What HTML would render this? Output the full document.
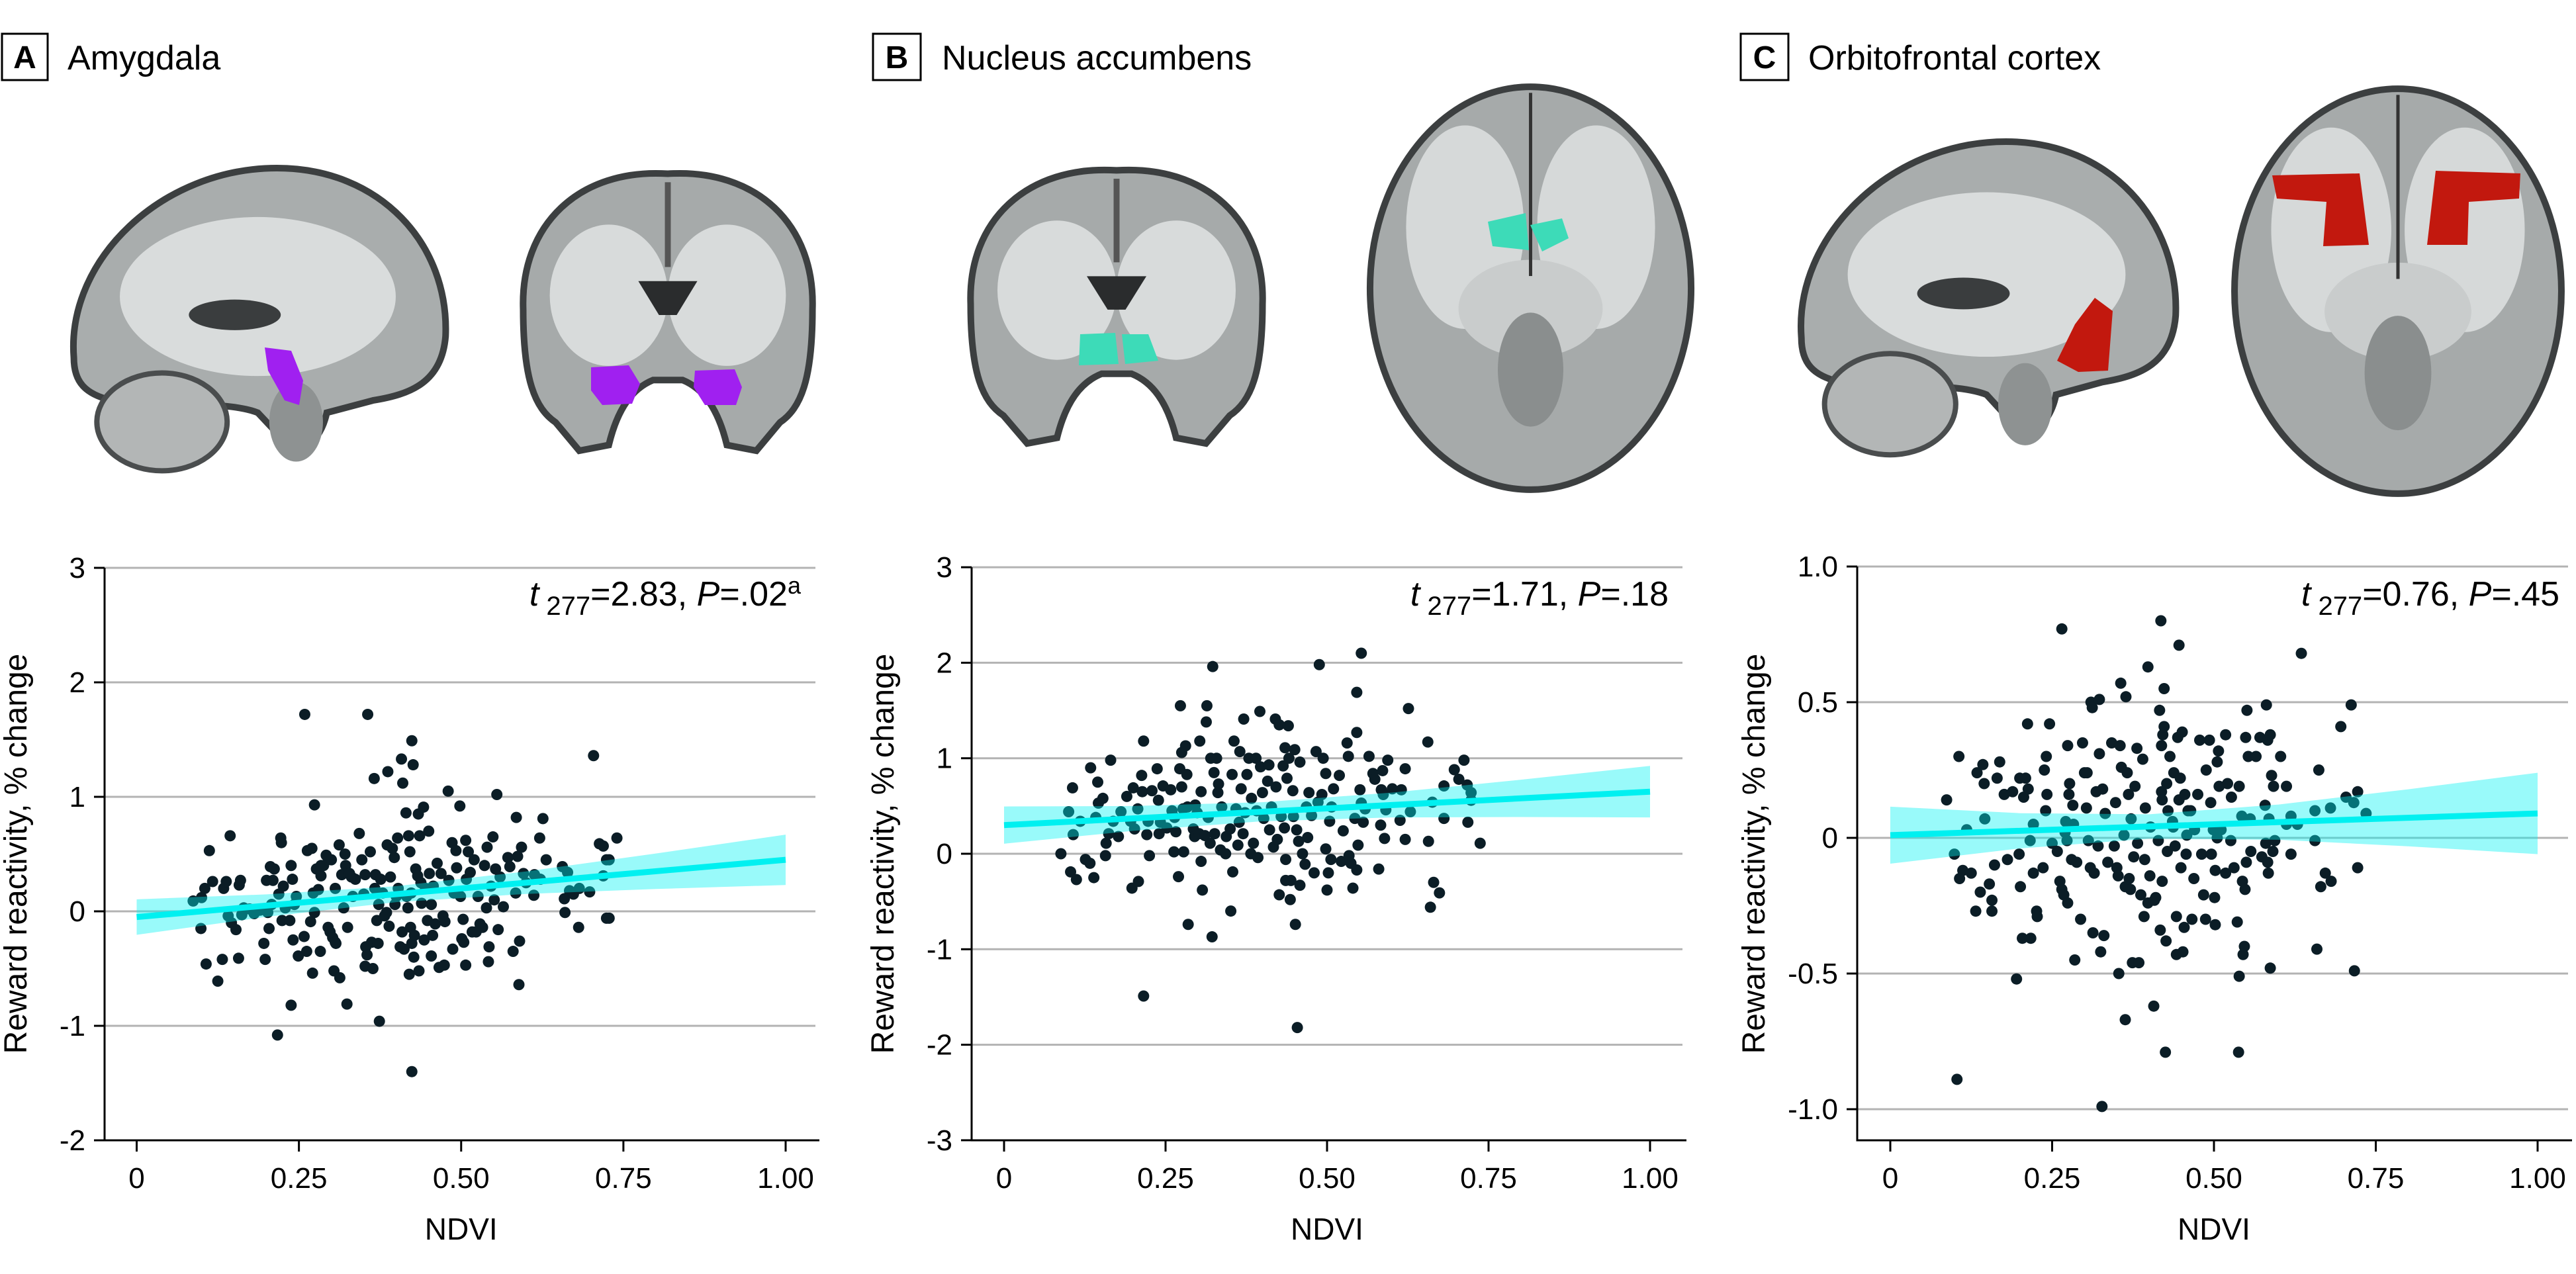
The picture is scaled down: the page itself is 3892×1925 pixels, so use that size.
<!DOCTYPE html>
<html><head><meta charset="utf-8"><style>
html,body{margin:0;padding:0;background:#fff;}
svg{display:block;}
.nar{font-family:"Liberation Sans Narrow","Liberation Sans",sans-serif;}
.reg{font-family:"Liberation Sans",sans-serif;}
</style></head><body>
<svg id="fig" xmlns="http://www.w3.org/2000/svg" width="3892" height="1925" viewBox="0 0 3892 1925">
<defs>
<g id="sag">
<path d="M0.02,0.62 C0,0.3 0.25,0 0.55,0 C0.82,0 1,0.25 0.99,0.55 C0.98,0.7 0.9,0.74 0.8,0.76 L0.68,0.8 C0.66,0.92 0.58,0.96 0.56,0.88 L0.5,0.8 C0.42,0.76 0.25,0.78 0.12,0.76 C0.05,0.74 0.02,0.7 0.02,0.62Z" fill="#a9adad" stroke="#3c3f40" stroke-width="10" vector-effect="non-scaling-stroke"/>
<ellipse cx="0.5" cy="0.42" rx="0.36" ry="0.26" fill="#d9dcdc"/>
<ellipse cx="0.25" cy="0.83" rx="0.17" ry="0.16" fill="#b3b6b6" stroke="#4a4d4e" stroke-width="8" vector-effect="non-scaling-stroke"/>
<ellipse cx="0.6" cy="0.83" rx="0.07" ry="0.13" fill="#8e9292"/>
<ellipse cx="0.44" cy="0.48" rx="0.12" ry="0.05" fill="#3a3d3e"/>
</g>
<g id="cor">
<path d="M0.5,0.02 C0.2,0 0,0.2 0.01,0.5 C0.01,0.75 0.05,0.85 0.12,0.9 L0.2,1 L0.3,0.98 C0.33,0.85 0.38,0.78 0.45,0.75 L0.55,0.75 C0.62,0.78 0.67,0.85 0.7,0.98 L0.8,1 L0.88,0.9 C0.95,0.85 0.99,0.75 0.99,0.5 C1,0.2 0.8,0 0.5,0.02Z" fill="#a6aaaa" stroke="#3c3f40" stroke-width="10" vector-effect="non-scaling-stroke"/>
<ellipse cx="0.3" cy="0.45" rx="0.2" ry="0.25" fill="#d8dbdb"/>
<ellipse cx="0.7" cy="0.45" rx="0.2" ry="0.25" fill="#d8dbdb"/>
<path d="M0.4,0.4 L0.6,0.4 L0.53,0.52 L0.47,0.52Z" fill="#2a2c2d"/>
<rect x="0.49" y="0.05" width="0.02" height="0.3" fill="#555"/>
</g>
<g id="axi">
<ellipse cx="0.5" cy="0.5" rx="0.49" ry="0.495" fill="#a6aaaa" stroke="#3c3f40" stroke-width="10" vector-effect="non-scaling-stroke"/>
<ellipse cx="0.3" cy="0.35" rx="0.18" ry="0.25" fill="#d6d9d9"/>
<ellipse cx="0.7" cy="0.35" rx="0.18" ry="0.25" fill="#d6d9d9"/>
<ellipse cx="0.5" cy="0.55" rx="0.22" ry="0.12" fill="#c9cccc"/>
<ellipse cx="0.5" cy="0.7" rx="0.1" ry="0.14" fill="#8a8e8e"/>
<rect x="0.495" y="0.02" width="0.01" height="0.45" fill="#333"/>
</g>
</defs>

<!-- titles -->
<g>
<rect x="3" y="51" width="69" height="70" fill="none" stroke="#000" stroke-width="3"/>
<text x="37.5" y="103" class="nar" font-size="48" font-weight="bold" text-anchor="middle">A</text>
<text x="102" y="105" class="nar" font-size="52">Amygdala</text>
</g>
<g>
<rect x="1319" y="51" width="72" height="70" fill="none" stroke="#000" stroke-width="3"/>
<text x="1355" y="103" class="nar" font-size="48" font-weight="bold" text-anchor="middle">B</text>
<text x="1423" y="105" class="nar" font-size="52">Nucleus accumbens</text>
</g>
<g>
<rect x="2630" y="51" width="72" height="70" fill="none" stroke="#000" stroke-width="3"/>
<text x="2666" y="103" class="nar" font-size="48" font-weight="bold" text-anchor="middle">C</text>
<text x="2732" y="105" class="nar" font-size="52">Orbitofrontal cortex</text>
</g>

<!-- brains -->
<use href="#sag" transform="translate(100,254) scale(579,462)"/>
<path d="M400,525 L440,530 L458,575 L452,612 L430,605 L405,560Z" fill="#a020f0"/>
<use href="#cor" transform="translate(786,254) scale(446,427)"/>
<path d="M893,555 L950,552 L967,580 L955,610 L910,612 L893,590Z" fill="#a020f0"/>
<path d="M1050,560 L1110,558 L1121,585 L1112,612 L1065,612 L1048,585Z" fill="#a020f0"/>

<use href="#cor" transform="translate(1462,249) scale(450,421)"/>
<path d="M1632,505 L1685,503 L1690,550 L1630,552Z M1695,505 L1735,505 L1750,545 L1700,550Z" fill="#3ddbb8"/>
<use href="#axi" transform="translate(2065,128) scale(495,615)"/>
<path d="M2248,335 L2305,322 L2310,378 L2255,372Z M2312,340 L2360,330 L2370,360 L2330,380Z" fill="#3ddbb8"/>

<use href="#sag" transform="translate(2710,214) scale(583,478)"/>
<path d="M3165,450 L3192,470 L3185,560 L3140,562 L3108,545 L3135,490Z" fill="#c2180e"/>
<use href="#axi" transform="translate(3371,131) scale(504,618)"/>
<path d="M3433,265 L3565,262 L3579,370 L3510,372 L3515,305 L3440,300Z" fill="#c2180e"/>
<path d="M3680,258 L3808,262 L3806,300 L3730,305 L3728,370 L3667,370Z" fill="#c2180e"/>

<g id="charts"></g>
</svg>
<script>
// ---- Panel A: Amygdala ----
const aNdvi=[0.087,0.099,0.10,0.105,0.107,0.112,0.117,0.125,0.132,0.134,0.138,0.141,0.144,0.146,0.153,0.157,0.158,0.16,0.162,0.165,0.174,0.181,0.19,0.196,0.198,0.2,0.202,0.204,0.206,0.208,0.21,0.212,0.217,0.219,0.222,0.223,0.224,0.226,0.229,0.236,0.238,0.238,0.24,0.241,0.243,0.246,0.249,0.258,0.259,0.262,0.263,0.268,0.27,0.271,0.272,0.274,0.274,0.277,0.28,0.283,0.284,0.284,0.288,0.292,0.295,0.298,0.3,0.302,0.304,0.306,0.306,0.307,0.312,0.313,0.316,0.319,0.321,0.322,0.324,0.325,0.328,0.331,0.333,0.337,0.343,0.347,0.35,0.352,0.352,0.353,0.355,0.356,0.36,0.362,0.364,0.366,0.367,0.368,0.37,0.372,0.373,0.374,0.376,0.379,0.382,0.385,0.386,0.387,0.389,0.391,0.394,0.397,0.398,0.4,0.402,0.403,0.406,0.408,0.409,0.41,0.412,0.415,0.416,0.418,0.419,0.42,0.421,0.422,0.423,0.424,0.424,0.424,0.426,0.427,0.428,0.43,0.433,0.434,0.435,0.436,0.438,0.439,0.442,0.443,0.445,0.448,0.45,0.451,0.454,0.454,0.456,0.457,0.46,0.463,0.466,0.469,0.472,0.474,0.475,0.48,0.481,0.486,0.487,0.489,0.492,0.493,0.498,0.499,0.501,0.503,0.504,0.507,0.507,0.508,0.511,0.514,0.517,0.52,0.523,0.526,0.529,0.533,0.536,0.539,0.54,0.542,0.543,0.546,0.549,0.551,0.553,0.555,0.557,0.56,0.565,0.572,0.575,0.58,0.584,0.585,0.587,0.589,0.59,0.593,0.596,0.6,0.612,0.613,0.621,0.622,0.626,0.631,0.656,0.659,0.66,0.664,0.667,0.673,0.681,0.682,0.698,0.704,0.713,0.719,0.719,0.724,0.724,0.728,0.74,0.728];
const aReward=[0.09,-0.15,0.12,0.2,-0.46,0.53,0.26,-0.61,-0.42,0.2,0.26,-0.04,0.66,-0.1,-0.16,-0.41,0.23,0.27,-0.03,0.03,0.02,-0.02,0.01,-0.28,-0.42,0.27,-0.01,-0.15,0.39,0.06,0.27,0.37,-1.08,0.15,0.64,0.6,-0.08,0.22,0.03,-0.08,0.4,-0.82,0.28,-0.25,0.06,0.13,-0.39,-0.22,1.72,-0.35,0.53,-0.09,0.55,-0.54,0.16,0.93,-0.01,0.37,0.19,-0.35,0.31,0.4,0.4,0.49,-0.14,-0.18,0.45,-0.23,-0.52,0.2,-0.27,-0.28,0.58,-0.58,0.32,0.03,0.5,0.4,-0.81,-0.14,0.33,0.3,0.13,0.28,0.68,0.45,0.15,0.32,-0.48,-0.31,-0.38,1.72,0.52,-0.27,-0.5,1.16,0.2,0.32,-0.08,-0.28,0.06,-0.96,0.28,0.16,-0.04,-0.01,0.58,1.22,-0.13,0.3,0.55,0.47,0.06,0.13,0.64,0.2,-0.31,1.33,-0.18,1.12,-0.33,0.86,0.13,0.03,0.66,-0.55,0.52,-0.14,0.16,1.49,-0.28,-1.4,1.28,-0.4,-0.21,0.37,0.31,0.85,-0.52,0.66,0.25,0.07,0.91,-0.25,0.2,-0.08,0.7,0.33,0.06,-0.39,-0.21,0.22,-0.11,0.42,-0.49,0.33,-0.04,-0.47,-0.09,1.05,0.27,0.6,-0.33,0.16,0.53,0.38,0.92,0.13,-0.24,-0.07,-0.27,0.62,-0.47,0.28,0.52,0.34,-0.18,0.45,-0.18,0.13,-0.11,-0.14,0.4,0.03,0.56,-0.44,-0.31,0.22,0.65,0.1,0.37,1.02,-0.16,0.3,0.04,0.47,0.39,-0.35,0.16,0.82,0.48,-0.64,-0.26,0.56,0.33,0.25,0.14,0.32,0.64,0.28,0.81,0.45,0.39,0.11,-0.01,0.34,0.18,0.15,-0.14,0.2,0.17,1.36,0.59,0.57,0.31,0.45,-0.06,0.45,0.64,-0.06];
const aFit=[-0.05,0.45];
const aBandLo=[-0.205,-0.048,0.08,0.152,0.195,0.23];
const aBandHi=[0.105,0.148,0.22,0.348,0.505,0.67];
const aYTicks=[3,2,1,0,-1,-2];
const aYTickLabels=["3","2","1","0","-1","-2"];

// ---- Panel B: Nucleus accumbens ----
const bNdvi=[0.088,0.1,0.103,0.106,0.107,0.112,0.118,0.126,0.133,0.134,0.139,0.142,0.145,0.146,0.153,0.157,0.158,0.162,0.165,0.169,0.177,0.181,0.19,0.196,0.198,0.2,0.202,0.207,0.208,0.213,0.214,0.216,0.216,0.221,0.223,0.225,0.229,0.237,0.239,0.24,0.242,0.246,0.252,0.258,0.26,0.263,0.264,0.266,0.27,0.272,0.273,0.275,0.275,0.277,0.278,0.281,0.283,0.284,0.285,0.293,0.295,0.296,0.299,0.302,0.303,0.305,0.305,0.307,0.311,0.313,0.314,0.316,0.319,0.32,0.322,0.323,0.325,0.326,0.329,0.331,0.332,0.335,0.337,0.343,0.344,0.35,0.351,0.353,0.354,0.356,0.359,0.362,0.364,0.365,0.367,0.37,0.371,0.373,0.376,0.379,0.382,0.383,0.386,0.39,0.391,0.393,0.396,0.397,0.4,0.402,0.408,0.41,0.411,0.414,0.417,0.42,0.421,0.423,0.426,0.426,0.429,0.432,0.434,0.435,0.436,0.436,0.438,0.44,0.441,0.443,0.444,0.447,0.448,0.45,0.451,0.453,0.454,0.456,0.458,0.458,0.462,0.466,0.468,0.47,0.472,0.476,0.48,0.483,0.486,0.488,0.492,0.494,0.498,0.498,0.5,0.502,0.504,0.506,0.507,0.51,0.519,0.522,0.525,0.531,0.533,0.534,0.537,0.54,0.543,0.546,0.546,0.548,0.546,0.551,0.553,0.556,0.559,0.565,0.571,0.574,0.58,0.583,0.584,0.586,0.587,0.589,0.591,0.594,0.601,0.613,0.615,0.621,0.621,0.626,0.629,0.656,0.657,0.66,0.663,0.665,0.674,0.681,0.681,0.697,0.704,0.712,0.717,0.718,0.723,0.723,0.737,0.553];
const bReward=[0,0.44,-0.19,0.69,0.2,-0.27,0.34,-0.06,-0.1,0.9,-0.25,0.38,0.75,0.53,0.58,-0.02,0.11,0.21,0.98,0.34,0.18,0.44,0.6,0.34,-0.36,0.69,0.26,0.47,-0.29,0.82,0.65,1.18,-1.49,0.2,0.34,-0.02,0.66,0.89,0.56,0.21,0.33,0.71,0.27,0.67,0.45,0.02,0.38,0.23,-0.24,0.89,1.55,1.06,0.7,0.47,0.02,1.13,0.83,0.49,-0.74,0.26,0.18,0.51,0.43,0.21,1.18,-0.08,0.65,-0.38,0.19,1.38,1.55,0.38,0.11,1.0,-0.87,1.96,0.85,0.21,1.0,0.64,0.73,0.04,0.49,0,0.18,0.26,-0.6,0.83,-0.19,1.18,0.47,0.09,0.33,1.07,0.68,0.21,1.41,0.43,0.83,1.0,0,0.58,0.11,1.0,0.45,-0.04,1.49,0.91,0.64,0.37,0.76,0.93,0.25,0.49,0.07,1.41,0.7,0.15,1.35,-0.43,0.39,0.92,0.27,1.11,-0.06,-0.28,0.79,1.34,1.0,-0.48,-0.28,0.66,0.39,1.09,-0.74,0.25,-1.82,0.13,0.96,-0.33,0,-0.11,0.49,0.17,0.64,0.4,-0.2,1.07,0.54,1.98,0.62,1.0,0.84,0.05,-0.38,-0.2,0.34,-0.06,0.49,0.68,0.82,-0.08,0.24,1.16,1.02,-0.02,-0.1,-0.36,0.37,1.27,-0.17,0.09,1.69,0.67,0.53,0.33,0.47,1.02,0.84,0.78,-0.16,0.3,0.67,0.87,0.62,0.16,0.46,0.98,0.68,0.35,0.67,0.89,0.15,1.52,0.44,1.17,0.13,-0.56,0.54,-0.3,-0.41,0.37,0.71,0.88,0.78,0.98,0.72,0.33,0.64,0.56,0.11,2.1];
const bFit=[0.30,0.65];
const bBandLo=[0.105,0.24,0.34,0.38,0.385,0.38];
const bBandHi=[0.495,0.50,0.54,0.64,0.775,0.92];
const bYTicks=[3,2,1,0,-1,-2,-3];
const bYTickLabels=["3","2","1","0","-1","-2","-3"];

// ---- Panel C: Orbitofrontal cortex ----
const cNdvi=[0.087,0.099,0.103,0.106,0.107,0.112,0.118,0.125,0.132,0.134,0.139,0.143,0.145,0.146,0.153,0.157,0.157,0.161,0.165,0.169,0.176,0.181,0.189,0.195,0.199,0.2,0.201,0.204,0.206,0.209,0.212,0.213,0.216,0.217,0.221,0.221,0.226,0.227,0.236,0.238,0.24,0.241,0.242,0.246,0.25,0.258,0.262,0.265,0.268,0.27,0.271,0.273,0.274,0.274,0.276,0.277,0.28,0.282,0.283,0.285,0.288,0.294,0.297,0.3,0.303,0.304,0.306,0.309,0.31,0.312,0.313,0.315,0.318,0.321,0.323,0.323,0.325,0.327,0.328,0.33,0.332,0.336,0.342,0.346,0.348,0.35,0.352,0.353,0.355,0.356,0.357,0.361,0.363,0.363,0.364,0.366,0.368,0.369,0.371,0.372,0.374,0.376,0.378,0.381,0.382,0.384,0.387,0.39,0.392,0.393,0.394,0.398,0.398,0.401,0.402,0.407,0.408,0.41,0.414,0.416,0.417,0.419,0.419,0.42,0.42,0.421,0.423,0.423,0.425,0.426,0.427,0.428,0.429,0.432,0.436,0.437,0.438,0.44,0.442,0.442,0.444,0.446,0.448,0.449,0.451,0.452,0.454,0.455,0.457,0.458,0.46,0.464,0.466,0.469,0.47,0.475,0.478,0.481,0.484,0.487,0.488,0.493,0.495,0.496,0.499,0.501,0.502,0.502,0.505,0.505,0.507,0.508,0.511,0.518,0.518,0.521,0.526,0.527,0.531,0.536,0.538,0.539,0.539,0.543,0.544,0.545,0.547,0.548,0.549,0.55,0.551,0.553,0.556,0.557,0.565,0.571,0.574,0.579,0.58,0.581,0.583,0.583,0.584,0.585,0.587,0.587,0.589,0.591,0.592,0.594,0.603,0.612,0.612,0.619,0.619,0.629,0.656,0.656,0.659,0.662,0.665,0.672,0.68,0.681,0.696,0.704,0.712,0.716,0.717,0.722,0.722,0.735,0.265,0.418,0.446,0.635];
const cReward=[0.14,-0.06,-0.89,0.3,-0.15,-0.12,0.03,-0.13,-0.27,0.24,-0.2,0.27,0.2,0.07,-0.17,-0.23,-0.27,-0.1,0.22,0.28,0.16,-0.08,0.17,-0.52,-0.06,0.22,-0.18,-0.37,0.15,0.22,0.42,0.18,-0.01,-0.37,0.05,-0.13,-0.27,-0.29,-0.11,0.25,0.1,0.3,0.16,0.42,-0.02,-0.05,-0.16,-0.19,-0.21,0.02,0.06,-0.01,-0.24,0.34,0.16,0.2,-0.08,0.12,0.05,-0.45,-0.09,-0.3,0.35,0.24,0.11,0.24,-0.01,-0.11,0.5,0.48,-0.35,-0.13,0.17,-0.03,0.51,0.31,-0.42,-0.99,0.18,-0.36,0.09,-0.09,0.35,-0.03,0.13,-0.11,-0.14,-0.5,0.34,0.57,0.26,0.01,-0.67,-0.18,0.52,0.24,0.16,-0.15,-0.19,0.07,-0.46,-0.07,0.19,0.33,-0.02,-0.46,-0.21,0.29,-0.29,-0.08,0.11,0.63,-0.24,-0.14,0.04,-0.62,-0.23,-0.22,-0.01,0.47,-0.34,0.34,0.17,-0.16,0.14,0.38,0.55,0.41,-0.79,-0.38,0.2,-0.05,0.1,0.3,0.06,0.04,0.24,-0.03,-0.43,-0.29,0.37,0.14,0.22,-0.11,0.39,-0.42,-0.33,0.16,-0.06,0.01,0.1,0.1,-0.3,-0.15,0.03,0.16,0.36,-0.06,-0.21,-0.3,0.25,0.36,0.13,-0.06,0.03,-0.22,-0.32,-0.12,0.28,0,0.32,0.19,0.03,0.38,-0.13,0.2,-0.01,0.15,-0.11,-0.31,-0.79,-0.51,0.19,0.08,-0.16,-0.43,-0.4,-0.19,0.37,-0.09,0.47,0.3,0.07,-0.05,0.3,0.37,-0.07,0.12,-0.02,0.49,0.36,-0.09,-0.13,0.07,0.38,-0.48,0.23,-0.05,0.19,-0.01,0.3,0.19,0.05,0.08,-0.06,0.05,0.1,-0.01,-0.41,0.25,-0.18,-0.13,0.11,-0.16,0.41,0.15,0.49,0.13,-0.49,0.17,-0.11,0.09,0.77,0.8,0.71,0.68];
const cFit=[0.01,0.09];
const cBandLo=[-0.095,-0.039,-0.003,-0.007,-0.031,-0.06];
const cBandHi=[0.115,0.091,0.087,0.123,0.179,0.24];
const cYTicks=[1.0,0.5,0,-0.5,-1.0];
const cYTickLabels=["1.0","0.5","0","-0.5","-1.0"];

// shared
const bandNdvi=[0,0.2,0.4,0.6,0.8,1.0];
const xTicks=[0,0.25,0.5,0.75,1.0];
const xTickLabels=["0","0.25","0.50","0.75","1.00"];
const annA=["2.83",".02","a"], annB=["1.71",".18",""], annC=["0.76",".45",""];

const NS="http://www.w3.org/2000/svg";
const root=document.getElementById('charts');
function mk(tag,attrs,parent){const e=document.createElementNS(NS,tag);for(const k in attrs)e.setAttribute(k,attrs[k]);(parent||root).appendChild(e);return e;}

function panel(id,cfg){
  const g=mk('g',{});
  
  
  const X=v=>cfg.px0+(cfg.px1-cfg.px0)*v;
  const Y=v=>cfg.py0-cfg.ppu*v;
  const bottom=1723, gridEnd=cfg.axisX+1074;
  // grid + y ticks
  cfg.yTicks.forEach((t,i)=>{
    const y=Y(t);
    const gl=mk('line',{x1:cfg.axisX,x2:gridEnd,y1:y,y2:y,stroke:'#b3b3b3','stroke-width':3},g);
    
    
    mk('line',{x1:cfg.axisX-16,x2:cfg.axisX,y1:y,y2:y,stroke:'#000','stroke-width':3},g);
    const tl=mk('text',{x:cfg.axisX-29,y:y+15,'text-anchor':'end','font-size':44,class:'nar'},g);
    tl.textContent=cfg.yLabels[i];
    
    
  });
  // axes
  const ya=mk('line',{x1:cfg.axisX,x2:cfg.axisX,y1:Y(cfg.yTicks[0]),y2:bottom+1.5,stroke:'#000','stroke-width':3},g);
  
  
  const xa=mk('line',{x1:cfg.axisX,x2:gridEnd+6,y1:bottom,y2:bottom,stroke:'#000','stroke-width':3},g);
  
  
  xTicks.forEach((t,i)=>{
    const x=X(t);
    mk('line',{x1:x,x2:x,y1:bottom,y2:bottom+17,stroke:'#000','stroke-width':3},g);
    const tl=mk('text',{x:x,y:1795,'text-anchor':'middle','font-size':44,class:'nar'},g);
    tl.textContent=xTickLabels[i];
    
    
  });
  const xt=mk('text',{x:X(0.5),y:1873,'text-anchor':'middle','font-size':46,class:'nar'},g);
  xt.textContent='NDVI';
  
  
  const yt=mk('text',{x:0,y:0,'text-anchor':'middle','font-size':48,class:'reg',transform:`translate(${cfg.titleX},1290) rotate(-90)`},g);
  yt.textContent='Reward reactivity, % change';
  
  
  // points
  const n=Math.min(cfg.xs.length,cfg.ys.length);
  for(let i=0;i<n;i++){
    const c=mk('circle',{cx:X(cfg.xs[i]),cy:Y(cfg.ys[i]),r:8.5,fill:'#0b1d26'},g);
    
    
  }
  // band
  let pts=bandNdvi.map((v,i)=>X(v)+','+Y(cfg.hi[i]));
  pts=pts.concat(bandNdvi.map((v,i)=>X(v)+','+Y(cfg.lo[i])).reverse());
  const band=mk('polygon',{points:pts.join(' '),fill:'#00f2f2','fill-opacity':0.4},g);
  
  
  const fl=mk('line',{x1:X(0),x2:X(1),y1:Y(cfg.fit[0]),y2:Y(cfg.fit[1]),stroke:'#00f0f0','stroke-width':9},g);
  
  
  // annotation
  const an=mk('text',{x:cfg.annX,y:915,'text-anchor':'end','font-size':52,class:'nar'},g);
  
  
  const a=cfg.ann;
  an.innerHTML=`<tspan font-style="italic">t</tspan><tspan font-size="40" dy="14"> 277</tspan><tspan dy="-14">=${a[0]}, </tspan><tspan font-style="italic">P</tspan><tspan>=${a[1]}</tspan>`+(a[2]?`<tspan font-size="36" dy="-18">${a[2]}</tspan>`:'');
}
panel('amygdala',{px0:206.5,px1:1187,py0:1377,ppu:173,axisX:158,titleX:40,xs:aNdvi,ys:aReward,fit:aFit,lo:aBandLo,hi:aBandHi,yTicks:aYTicks,yLabels:aYTickLabels,annX:1210,ann:annA});
panel('accumbens',{px0:1517,px1:2493,py0:1290,ppu:144.3,axisX:1468,titleX:1350,xs:bNdvi,ys:bReward,fit:bFit,lo:bBandLo,hi:bBandHi,yTicks:bYTicks,yLabels:bYTickLabels,annX:2521,ann:annB});
panel('orbitofrontal',{px0:2856,px1:3834,py0:1266,ppu:410,axisX:2806,titleX:2666,xs:cNdvi,ys:cReward,fit:cFit,lo:cBandLo,hi:cBandHi,yTicks:cYTicks,yLabels:cYTickLabels,annX:3867,ann:annC});
</script>
</body></html>
